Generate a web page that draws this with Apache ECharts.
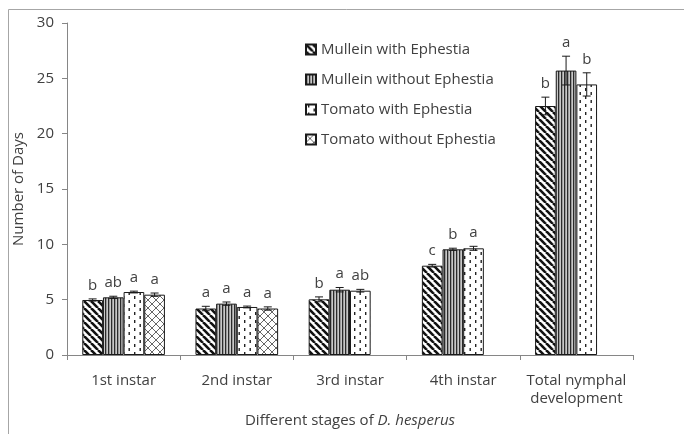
<!DOCTYPE html>
<html>
<head>
<meta charset="utf-8">
<script src="https://cdn.jsdelivr.net/npm/echarts@6/dist/echarts.min.js"></script>
<style>
  html, body { margin: 0; padding: 0; background: #fff; }
  #chart { width: 684px; height: 434px; }
</style>
</head>
<body>
<div id="chart"></div>
<script>
// stages on the x axis
const stages = ['1st instar', '2nd instar', '3rd instar', '4th instar', 'Total nymphal\ndevelopment'];
const seriesNames = ['Mullein with Ephestia', 'Mullein without Ephestia', 'Tomato with Ephestia', 'Tomato without Ephestia'];

// mean days per stage (null = not measured)
const mulleinWith = [4.97, 4.2, 5.03, 8.07, 22.5];
const mulleinWithout = [5.21, 4.64, 5.9, 9.55, 25.7];
const tomatoWith = [5.69, 4.34, 5.81, 9.64, 24.45];
const tomatoWithout = [5.45, 4.2, null, null, null];

// standard errors
const errMulleinWith = [0.1, 0.2, 0.22, 0.12, 0.8];
const errMulleinWithout = [0.1, 0.15, 0.2, 0.1, 1.3];
const errTomatoWith = [0.08, 0.08, 0.12, 0.18, 1.05];
const errTomatoWithout = [0.15, 0.15, null, null, null];

// significance letters
const lettersMulleinWith = ['b', 'a', 'b', 'c', 'b'];
const lettersMulleinWithout = ['ab', 'a', 'a', 'b', 'a'];
const lettersTomatoWith = ['a', 'a', 'ab', 'a', 'b'];
const lettersTomatoWithout = ['a', 'a', '', '', ''];

const yTicks = [0, 5, 10, 15, 20, 25, 30];

const vals = [mulleinWith, mulleinWithout, tomatoWith, tomatoWithout];
const errs = [errMulleinWith, errMulleinWithout, errTomatoWith, errTomatoWithout];
const letters = [lettersMulleinWith, lettersMulleinWithout, lettersTomatoWith, lettersTomatoWithout];

// ---- fill patterns ----
function makeCanvas(w, h, draw) {
  const c = document.createElement('canvas');
  c.width = w; c.height = h;
  const ctx = c.getContext('2d');
  ctx.fillStyle = '#fff';
  ctx.fillRect(0, 0, w, h);
  draw(ctx, w, h);
  return c;
}

// "\\\" thick black stripes
const diagPattern = makeCanvas(7, 7, (ctx, w) => {
  ctx.strokeStyle = '#111';
  ctx.lineWidth = 2.6;
  for (let o = -w; o <= w; o += w) {
    ctx.beginPath();
    ctx.moveTo(o, 0);
    ctx.lineTo(o + w, w);
    ctx.stroke();
  }
});

// dense vertical lines
const vertPattern = makeCanvas(3, 4, (ctx) => {
  ctx.fillStyle = '#2b2b2b'; ctx.fillRect(0, 0, 1, 4);
  ctx.fillStyle = '#9a9a9a'; ctx.fillRect(1, 0, 1, 4);
  ctx.fillStyle = '#c8c8c8'; ctx.fillRect(2, 0, 1, 4);
});

// dashed vertical lines
const dashPattern = makeCanvas(11, 8, (ctx) => {
  ctx.fillStyle = '#222';
  ctx.fillRect(2, 0, 1.4, 3);
  ctx.fillRect(7.5, 4, 1.4, 3);
});

// diamond cross hatch
const crossPattern = makeCanvas(8, 8, (ctx, w) => {
  ctx.strokeStyle = '#666';
  ctx.lineWidth = 1;
  for (let o = -w; o <= w; o += w) {
    ctx.beginPath(); ctx.moveTo(o, 0); ctx.lineTo(o + w, w); ctx.stroke();
    ctx.beginPath(); ctx.moveTo(o, w); ctx.lineTo(o + w, 0); ctx.stroke();
  }
});

const patterns = [diagPattern, vertPattern, dashPattern, crossPattern];

const catGap = 0.27;

let chart = echarts.init(document.getElementById('chart'));

const barSeries = seriesNames.map((name, k) => ({
  name: name,
  type: 'bar',
  barGap: '0%',
  barCategoryGap: (catGap * 100) + '%',
  data: vals[k].map(v => (v == null ? '-' : v)),
  itemStyle: {
    color: { image: patterns[k], repeat: 'repeat' },
    borderColor: '#1a1a1a',
    borderWidth: 1
  },
  emphasis: { disabled: true }
}));

const errSeries = seriesNames.map((name, k) => ({
  name: 'err_' + k,
  type: 'custom',
  z: 10,
  encode: { x: 0, y: 1 },
  data: stages.map((s, i) => [i, vals[k][i] == null ? NaN : vals[k][i], errs[k][i] == null ? 0 : errs[k][i]]),
  renderItem: function (params, api) {
    const i = api.value(0), v = api.value(1), e = api.value(2);
    if (isNaN(v)) return null;
    const bandW = api.size([1, 0])[0];
    const bw = bandW * (1 - catGap) / 4;
    const x = api.coord([i, v])[0] + (k - 1.5) * bw;
    const yTop = api.coord([i, v + e])[1];
    const yBot = api.coord([i, v - e])[1];
    const cap = 4;
    const st = { stroke: '#1a1a1a', lineWidth: 1 };
    return {
      type: 'group',
      children: [
        { type: 'line', shape: { x1: x, y1: yTop, x2: x, y2: yBot }, style: st },
        { type: 'line', shape: { x1: x - cap, y1: yTop, x2: x + cap, y2: yTop }, style: st },
        { type: 'line', shape: { x1: x - cap, y1: yBot, x2: x + cap, y2: yBot }, style: st },
        {
          type: 'text', x: x, y: yTop - 6,
          style: {
            text: letters[k][params.dataIndex],
            align: 'center', verticalAlign: 'bottom',
            fill: '#404040', font: '15px "Open Sans"'
          }
        }
      ]
    };
  }
}));

chart.setOption({
  animation: false,
  backgroundColor: '#fff',
  textStyle: { fontFamily: '"Open Sans", sans-serif' },
  graphic: [{
    type: 'rect',
    shape: { x: 8.5, y: 9.5, width: 800, height: 600 },
    style: { fill: 'none', stroke: '#a6a6a6', lineWidth: 1 },
    silent: true
  }],
  grid: { left: 67, right: 51, top: 23, bottom: 79 },
  legend: {
    data: seriesNames,
    orient: 'vertical',
    left: 300,
    top: 36,
    itemWidth: 10,
    itemHeight: 10,
    itemGap: 13,
    icon: 'rect',
    textStyle: { fontSize: 15, color: '#404040', lineHeight: 17 }
  },
  xAxis: {
    type: 'category',
    data: stages,
    axisLine: { lineStyle: { color: '#868686' } },
    axisTick: { show: true, length: 5, lineStyle: { color: '#868686' } },
    axisLabel: { interval: 0, fontSize: 15, color: '#404040', margin: 17, lineHeight: 18 },
    name: '{n|Different stages of }{i|D. hesperus}',
    nameLocation: 'middle',
    nameGap: 53,
    nameTextStyle: {
      rich: {
        n: { fontSize: 15, color: '#404040' },
        i: { fontSize: 15, color: '#404040', fontStyle: 'italic' }
      }
    }
  },
  yAxis: {
    type: 'value',
    min: yTicks[0],
    max: yTicks[yTicks.length - 1],
    interval: yTicks[1] - yTicks[0],
    splitLine: { show: false },
    axisLine: { show: true, lineStyle: { color: '#868686' } },
    axisTick: { show: true, length: 5, lineStyle: { color: '#868686' } },
    axisLabel: { fontSize: 15, color: '#404040', margin: 13 },
    name: 'Number of Days',
    nameLocation: 'middle',
    nameGap: 40,
    nameTextStyle: { fontSize: 15, color: '#404040' }
  },
  series: barSeries.concat(errSeries)
});
</script>
</body>
</html>
